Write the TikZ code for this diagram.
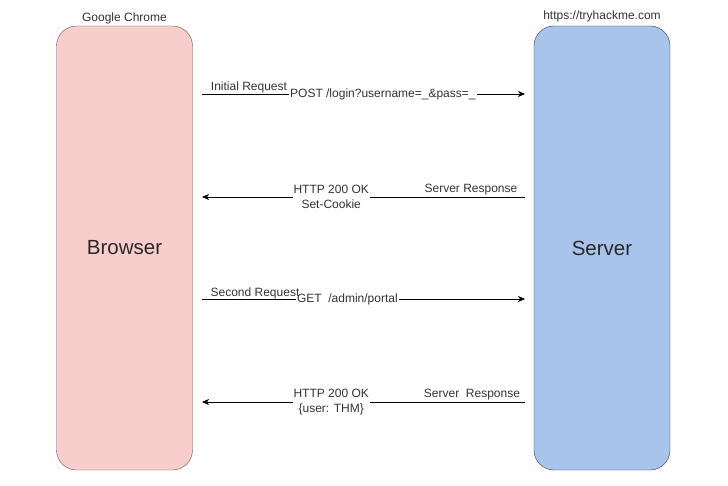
\documentclass[tikz,border=0pt]{standalone}
\usepackage{fontspec}
\setmainfont{Liberation Sans}
\usepackage{tikz}
\usetikzlibrary{arrows.meta,positioning}

\definecolor{browserfill}{HTML}{F8CECC}
\definecolor{browserline}{HTML}{5E5656}
\definecolor{serverfill}{HTML}{A9C4EB}
\definecolor{serverline}{HTML}{3A3F4A}
\definecolor{textgray}{HTML}{333333}

\begin{document}
\begin{tikzpicture}[
  x=1pt, y=-1pt,
  actor/.style={
    draw,
    rounded corners=20pt,
    minimum width=136pt,
    minimum height=444pt,
    font=\fontsize{20.5}{24}\selectfont,
    text=textgray!80!black
  },
  caption/.style={font=\fontsize{12}{14.5}\selectfont, text=textgray},
  msglabel/.style={caption, fill=white, inner sep=1pt, align=center},
  msg/.style={-{Stealth[length=7pt,width=6pt,inset=2pt]}, draw=black, line width=0.7pt}
]
  \useasboundingbox (0,0) rectangle (728,486);

  \node[actor, fill=browserfill, draw=browserline] (browser) at (124.5,248) {Browser};
  \node[actor, fill=serverfill, draw=serverline] (server) at (602,248) {Server};

  \node[caption, above=-2pt of browser] (chrome) {Google Chrome};
  \node[caption, above=0pt of server] (site) {https://tryhackme.com};

  % message end points
  \coordinate (b1) at (202,94);  \coordinate (s1) at (525,94);
  \coordinate (b2) at (202,197); \coordinate (s2) at (525,197);
  \coordinate (b3) at (202,299); \coordinate (s3) at (525,299);
  \coordinate (b4) at (202,402); \coordinate (s4) at (525,402);

  \draw[msg] (b1) -- (s1)
    node[msglabel, pos=0.56] (post) {POST /login?username=\_\&pass=\_};
  \node[caption] (initreq) at (249,87) {Initial Request};

  \draw[msg] (s2) -- (b2)
    node[msglabel, pos=0.6] (ok1) {HTTP 200 OK\\Set-Cookie};
  \node[caption] (resp1) at (471,190) {Server Response};

  \draw[msg] (b3) -- (s3)
    node[msglabel, pos=0.45] (get) {GET\ \ /admin/portal};
  \node[caption] (secreq) at (255,293) {Second Request};

  \draw[msg] (s4) -- (b4)
    node[msglabel, pos=0.6] (ok2) {HTTP 200 OK\\\{user: THM\}};
  \node[caption] (resp2) at (472,395) {Server\ \ Response};
\end{tikzpicture}
\end{document}
